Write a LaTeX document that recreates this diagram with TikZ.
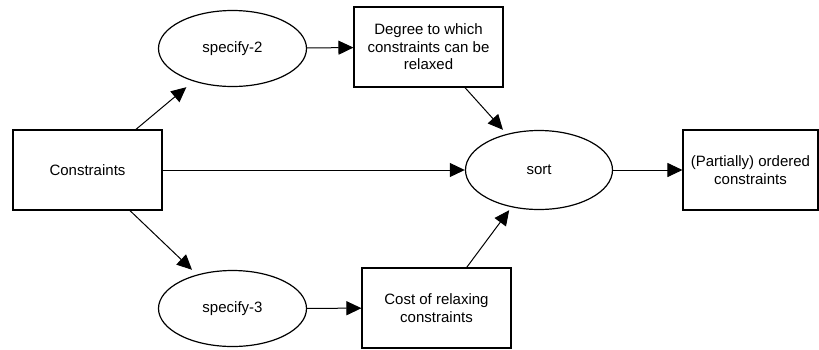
\documentclass[tikz,border=0pt]{standalone}
\usepackage{fontspec}
\setmainfont{Liberation Sans}
\usetikzlibrary{arrows.meta}
\begin{document}
\begin{tikzpicture}[x=1pt,y=1pt,
  every node/.style={font=\fontsize{15}{17.5}\selectfont, inner sep=0pt, align=center},
  boxnode/.style={draw, line width=1.1pt, minimum width=149pt, minimum height=80pt},
  ellnode/.style={minimum width=149pt, minimum height=77pt},
  conn/.style={line width=1pt, -{Triangle[length=15pt,width=14pt]}}]
\useasboundingbox (0,0) rectangle (819,-349);
\node[boxnode] (cons) at (87.5,-170) {Constraints};
\node[ellnode] (s2) at (232.5,-48.5) {specify-2};
\node[boxnode] (deg) at (428.5,-47) {Degree to which\\constraints can be\\relaxed};
\node[ellnode, minimum width=148pt, minimum height=80pt] (sort) at (539,-170) {sort};
\node[boxnode, minimum width=135pt] (part) at (750.5,-170) {(Partially) ordered\\constraints};
\node[ellnode] (s3) at (232.5,-308.5) {specify-3};
\node[boxnode] (cost) at (436.5,-308) {Cost of relaxing\\constraints};
\draw[line width=1.2pt] (s2.center) ellipse [x radius=74pt, y radius=38pt];
\draw[line width=1.2pt] (s3.center) ellipse [x radius=74pt, y radius=38pt];
\draw[line width=1.2pt] (sort.center) ellipse [x radius=73.5pt, y radius=39.5pt];
\draw[conn] (cons) -- (s2);
\draw[conn] (cons) -- (s3);
\draw[conn] (cons) -- (sort);
\draw[conn] (s2) -- (deg);
\draw[conn] (s3) -- (cost);
\draw[conn] (deg) -- (sort);
\draw[conn] (cost) -- (sort);
\draw[conn] (sort) -- (part);
\end{tikzpicture}
\end{document}
